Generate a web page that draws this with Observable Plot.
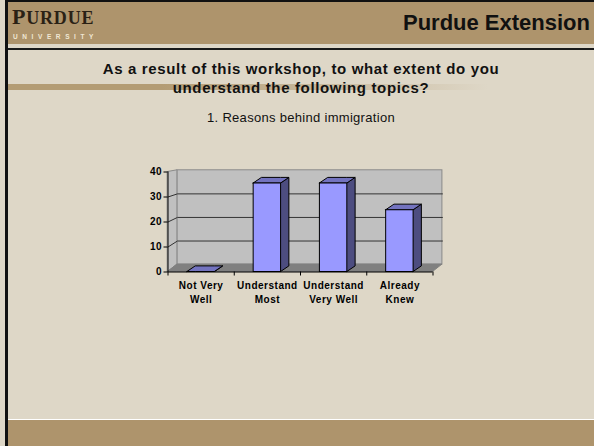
<!DOCTYPE html>
<html>
<head>
<meta charset="utf-8">
<script src="https://cdn.jsdelivr.net/npm/d3@7"></script>
<script src="https://cdn.jsdelivr.net/npm/@observablehq/plot@0.6"></script>
<style>
  html, body { margin: 0; padding: 0; }
  body { width: 594px; height: 446px; overflow: hidden; position: relative; background: #DED7C7; font-family: "Liberation Sans", Arial, sans-serif; }
  .abs { position: absolute; }
  #header { left: 7px; top: 2px; width: 587px; height: 42px; background: #AE946C; }
  #topline { left: 5px; top: 0; width: 589px; height: 2px; background: #111; }
  #hline { left: 7px; top: 48px; width: 587px; height: 2px; background: #1a1a1a; }
  #leftborder { left: 5px; top: 0; width: 3px; height: 446px; background: #111; }
  #footer { left: 8px; top: 420px; width: 586px; height: 26px; background: #AE946C; }
  #footline { left: 8px; top: 419px; width: 586px; height: 1px; background: #fff; }
  #brand { right: 4px; top: 8px; font-size: 22px; font-weight: bold; color: #111; line-height: 30px; }
  #logo { left: 12px; top: 5px; font-family: "Liberation Serif", serif; font-weight: bold; color: #2a2115; line-height: 24px; white-space: nowrap; }
  #logo .big { font-size: 22px; letter-spacing: 0.8px; }
  #logo .small { font-size: 18px; letter-spacing: 0.8px; }
  #univ { left: 13px; top: 33px; font-size: 6.5px; font-weight: bold; letter-spacing: 4.6px; color: #F0E7D3; line-height: 8px; }
  #deco { left: 8px; top: 84px; width: 480px; height: 6px; background: linear-gradient(to right, #B39C74 0%, #B39C74 32%, rgba(222,215,199,0) 100%); }
  #title { left: 8px; top: 59px; width: 586px; text-align: center; font-size: 15px; font-weight: bold; letter-spacing: 0.65px; line-height: 19px; color: #111; }
  #subtitle { left: 8px; top: 110px; width: 586px; text-align: center; font-size: 13px; letter-spacing: 0.3px; line-height: 15px; color: #111; }
  #chart { left: 130px; top: 160px; }
  #chart svg text { letter-spacing: 0.5px; }
</style>
</head>
<body>
<div class="abs" id="header"></div>
<div class="abs" id="topline"></div>
<div class="abs" id="hline"></div>
<div class="abs" id="footer"></div>
<div class="abs" id="footline"></div>
<div class="abs" id="leftborder"></div>
<div class="abs" id="logo"><span class="big">P</span><span class="small">URDUE</span></div>
<div class="abs" id="univ">UNIVERSITY</div>
<div class="abs" id="brand">Purdue Extension</div>
<div class="abs" id="deco"></div>
<div class="abs" id="title">As a result of this workshop, to what extent do you<br>understand the following topics?</div>
<div class="abs" id="subtitle">1. Reasons behind immigration</div>
<div class="abs" id="chart"></div>
<script>
// ---- data ----
const categories = ["Not Very\nWell", "Understand\nMost", "Understand\nVery Well", "Already\nKnew"];
const values = [0, 35.4, 35.4, 24.7];
const yTicks = [0, 10, 20, 30, 40];
const gridValues = [10, 20, 30];
const yMax = 40;

// ---- 3D geometry (in scale units) ----
const halfW = 0.207;      // half bar width (category units)
const barDX = 0.125, barDY = 2.24;   // bar depth offset
const wallDX = 0.142;     // wall depth offset
const back = v => 2.96 + 0.943 * v; // back-plane value for a front value

const n = categories.length;
const xLo = -0.5, xHi = n - 0.5;
const idx = d3.range(n);
const bars = idx.map(i => ({i, v: values[i]}));

// horizontal parallelogram (front edge x1..x2 at yf, back edge shifted by dx at yb)
function flat(id, x1, x2, yf, dx, yb) {
  return [
    {id, x: x1, y1: yf, y2: yf},
    {id, x: x1 + dx, y1: yf, y2: yb},
    {id, x: x2, y1: yf, y2: yb},
    {id, x: x2 + dx, y1: yb, y2: yb}
  ];
}
// vertical side parallelogram
function side(id, x, dx, ya, yb, dy) {
  return [
    {id, x, y1: ya, y2: yb},
    {id, x: x + dx, y1: ya + dy, y2: yb + dy}
  ];
}

const floor = flat("floor", xLo, xHi, 0, wallDX, back(0));
const leftWall = [
  {id: "lw", x: xLo, y1: 0, y2: yMax},
  {id: "lw", x: xLo + wallDX, y1: back(0), y2: back(yMax)}
];
const grid = gridValues.flatMap(v => [
  {g: v, x: xLo, y: v},
  {g: v, x: xLo + wallDX, y: back(v)},
  {g: v, x: xHi + wallDX, y: back(v)}
]);
const sides = bars.flatMap(b => side("s" + b.i, b.i + halfW, barDX, 0, b.v, barDY));
const tops = bars.flatMap(b => flat("t" + b.i, b.i - halfW, b.i + halfW, b.v, barDX, b.v + barDY));

const chart = Plot.plot({
  width: 330,
  height: 175,
  marginLeft: 37.5,
  marginRight: 27.5,
  marginTop: 11.5,
  marginBottom: 63.5,
  style: {background: "transparent", overflow: "visible", fontFamily: "Liberation Sans, Arial, sans-serif"},
  x: {type: "linear", domain: [xLo, xHi]},
  y: {type: "linear", domain: [0, yMax]},
  marks: [
    Plot.rect([{}], {x1: xLo + wallDX, x2: xHi + wallDX, y1: back(0), y2: back(yMax), fill: "#C0C0C0", stroke: "#8a8a8a"}),
    Plot.areaY(leftWall, {x: "x", y1: "y1", y2: "y2", z: "id", fill: "#C0C0C0", stroke: "#8a8a8a", curve: "linear"}),
    Plot.areaY(floor, {x: "x", y1: "y1", y2: "y2", z: "id", fill: "#808080", stroke: "#808080", curve: "linear"}),
    Plot.line(grid, {x: "x", y: "y", z: "g", stroke: "#333", strokeWidth: 1}),
    Plot.areaY(sides, {x: "x", y1: "y1", y2: "y2", z: "id", fill: "#4D4D80", stroke: "#000", strokeWidth: 1, curve: "linear"}),
    Plot.areaY(tops, {x: "x", y1: "y1", y2: "y2", z: "id", fill: "#7373BF", stroke: "#000", strokeWidth: 1, curve: "linear"}),
    Plot.rect(bars.filter(b => b.v > 0), {x1: b => b.i - halfW, x2: b => b.i + halfW, y1: 0, y2: "v", fill: "#9999FF", stroke: "#000", strokeWidth: 1}),
    Plot.ruleX([xLo], {y1: 0, y2: yMax, stroke: "#000"}),
    Plot.ruleY([0], {x1: xLo, x2: xHi, stroke: "#000"}),
    Plot.axisY({ticks: yTicks, tickSize: 4, tickPadding: 2, label: null, fontSize: 10, fontWeight: "bold", stroke: "#000"}),
    Plot.axisX({ticks: d3.range(n + 1).map(k => k - 0.5), tickSize: 4, tickFormat: () => "", label: null, stroke: "#000"}),
    Plot.axisX({ticks: idx, tickSize: 0, tickPadding: 7, tickFormat: i => categories[i], label: null, fontSize: 10, fontWeight: "bold", lineHeight: 1.4})
  ]
});
document.getElementById("chart").appendChild(chart);
</script>
</body>
</html>
